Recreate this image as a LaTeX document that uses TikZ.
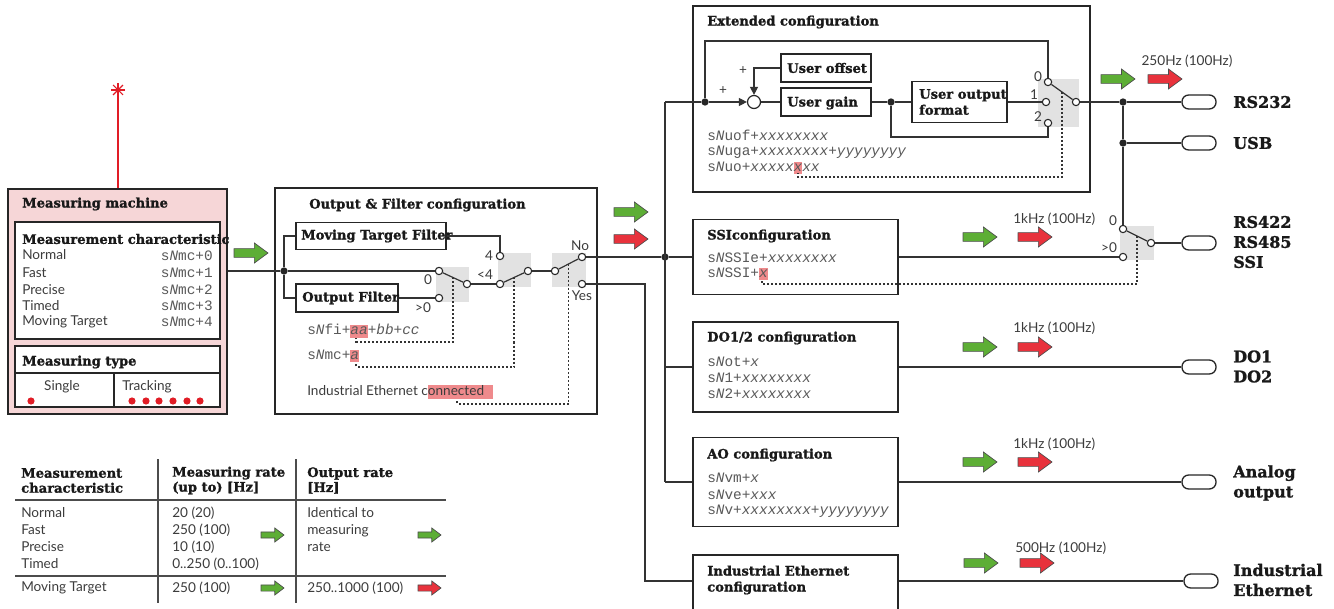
\documentclass[tikz,border=0pt]{standalone}
\usepackage{fontspec}
\setmainfont{Lato}
\setmonofont{Liberation Mono}
\newfontfamily\titlefont{DejaVu Serif}[BoldFont={DejaVu Serif Bold}, BoldFeatures={FakeBold=1.3}]
\usetikzlibrary{arrows.meta,calc}
\definecolor{pinkbg}{HTML}{F6D6D7}
\definecolor{swgray}{HTML}{E2E2E2}
\definecolor{agreen}{HTML}{5DAE35}
\definecolor{ared}{HTML}{E8323C}
\definecolor{hlred}{HTML}{EF8A8C}
\definecolor{txt}{HTML}{3C3C3C}
\definecolor{dotred}{HTML}{E11D26}
\definecolor{ln}{HTML}{333333}
\newcommand\sN{s\textit{N}}
\newcommand\hlx[1]{{\fboxsep=0pt\colorbox{hlred}{\rule[-2.5pt]{0pt}{9.5pt}#1}}}
\newcommand\hlwide[1]{{\fboxsep=0pt\colorbox{hlred}{\rule[-3pt]{0pt}{10.5pt}#1\hspace{7pt}}}}
\begin{document}
\begin{tikzpicture}[x=0.75pt,y=-0.75pt,
  wire/.style={draw=ln, line width=0.9pt},
  dotw/.style={draw=ln, line width=0.9pt, dash pattern=on 1.5pt off 1.5pt},
  tline/.style={draw=black!70, line width=0.8pt},
  box/.style={draw=black!85, line width=1pt, fill=white, inner sep=0pt},
  sz/.style 2 args={minimum width=#1*0.75pt, minimum height=#2*0.75pt},
  ttl/.style={font=\titlefont\bfseries\fontsize{9.8}{12}\selectfont, anchor=west, inner sep=0pt, text=black!90, align=left},
  ttlb/.style={font=\titlefont\bfseries\fontsize{9.8}{11.25}\selectfont, anchor=west, inner sep=0pt, text=black!90, align=left},
  rlab/.style={font=\titlefont\bfseries\fontsize{12}{15}\selectfont, anchor=west, inner sep=0pt, text=black!90, align=left},
  lbl/.style={font=\fontsize{10.2}{12.75}\selectfont, text=txt, inner sep=0pt},
  code/.style={font=\ttfamily\fontsize{10.8}{12}\selectfont, text=black!65, inner sep=0pt, anchor=west},
  term/.style={circle, draw=black!85, fill=white, line width=0.8pt, minimum size=5.5pt, inner sep=0pt},
  jdot/.style={circle, fill=black!85, minimum size=5.5pt, inner sep=0pt},
  plug/.style={draw=black!85, line width=1pt, fill=white, rounded corners=5pt, minimum width=25.5pt, minimum height=10.5pt, inner sep=0pt},
  tip/.style={-{Triangle[length=6pt,width=6pt]}},
  fatarrow/.pic={\path[draw=black!70, line width=0.5pt, pic actions] (0,-0.22)--(0.6,-0.22)--(0.6,-0.5)--(1,0)--(0.6,0.5)--(0.6,0.22)--(0,0.22)--cycle;},
  big/.style={xscale=34, yscale=20},
  small/.style={xscale=23, yscale=14}
]
\useasboundingbox (0,0) rectangle (1334,609);
\clip (0,0) rectangle (1334,609);

% ---------- Measuring machine ----------
\coordinate (ast) at (118,90);
\node[box, fill=pinkbg, sz={219}{225}] (mm) at (117.5,301.5) {};
\draw[dotred, line width=0.9pt] (ast) -- (ast |- mm.north);
\foreach \a in {0,45,90,135} \draw[dotred, line width=0.8pt] (ast) +(\a:7) -- +(\a+180:7);
\node[ttl] (mmt) at (22,204) {Measuring machine};
\node[box, sz={205}{117}] (mc) at (117.5,280.5) {};
\node[ttl] (mct) at (22,239) {Measurement characteristic};
\node[lbl, anchor=west] (r1) at (22,255) {Normal};
\node[lbl, anchor=west] (r2) at (22,273) {Fast};
\node[lbl, anchor=west] (r3) at (22,290) {Precise};
\node[lbl, anchor=west] (r4) at (22,306) {Timed};
\node[lbl, anchor=west] (r5) at (22,322) {Moving Target};
\node[code, anchor=east] (k1) at (213,256) {\sN mc+0};
\node[code, anchor=east] (k2) at (213,273) {\sN mc+1};
\node[code, anchor=east] (k3) at (213,290) {\sN mc+2};
\node[code, anchor=east] (k4) at (213,306) {\sN mc+3};
\node[code, anchor=east] (k5) at (213,322) {\sN mc+4};
\node[box, sz={205}{61}] (mt) at (117.5,376.5) {};
\node[ttl] (mtt) at (22,362) {Measuring type};
\draw[draw=black!85, line width=1pt] (15,373) -- (220,373) (114,373) -- (114,407);
\node[lbl] (sgl) at (62,387) {Single};
\node[lbl, anchor=west] (trk) at (122,387) {Tracking};
\foreach \x in {31,132,146,159,173,187,200} \fill[dotred] (\x,401) circle[radius=2.7pt];
\pic[fill=agreen, big] at (234,253) {fatarrow};

% ---------- Output & Filter configuration ----------
\node[box, sz={322}{226}] (of) at (436,301) {};
\node[ttl] (oft) at (309,205) {Output \& Filter configuration};
\node[box, sz={150}{27}] (mtf) at (371,236) {};
\node[ttl] (mtft) at (301,236) {Moving Target Filter};
\node[box, sz={102}{28}] (ofl) at (347,298) {};
\node[ttl] (oflt) at (302,298) {Output Filter};
\fill[swgray] (436,267) rectangle (469,302);
\fill[swgray] (498,253) rectangle (531,287);
\fill[swgray] (552,253) rectangle (586,287);
\node[jdot] (j1) at (284,271) {};
\node[term] (a0) at (439,271) {};
\node[term] (a1) at (439,298) {};
\node[term] (s1o) at (467,284) {};
\node[term] (b4) at (500,256) {};
\node[term] (b3) at (500,284) {};
\node[term] (s2o) at (528,271) {};
\node[term] (c0) at (555,271) {};
\node[term] (cno) at (582,257) {};
\node[term] (cyes) at (582,284) {};
\node[lbl] at (428,280) {0};
\node[lbl] at (423,308) {>0};
\node[lbl] at (489,256) {4};
\node[lbl] at (485,275) {<4};
\node[lbl] at (580,246) {No};
\node[lbl] at (582,296) {Yes};
\draw[wire] (mm.east |- j1) -- (j1);
\draw[wire] (j1) |- (mtf.west);
\draw[wire] (j1) |- (ofl.west);
\draw[wire] (j1) -- (a0);
\draw[wire] (ofl.east) -- (a1);
\draw[wire] (mtf.east) -| (b4);
\draw[wire] (a0) -- (s1o);
\draw[wire] (s1o) -- (b3);
\draw[wire] (b3) -- (s2o);
\draw[wire] (s2o) -- (c0);
\draw[wire] (c0) -- (cno);
\node[code] (cf1) at (307,331) {\sN fi+\hlx{\textit{aa}}+\textit{bb}+\textit{cc}};
\node[code] (cf2) at (307,356) {\sN mc+\hlx{\textit{a}}};
\node[lbl, anchor=west] (iec) at (307,392) {Industrial Ethernet c\hlwide{onnected}};
\coordinate (d1a) at (356,342); \coordinate (d1) at (356,338);
\coordinate (d2a) at (356,367); \coordinate (d2) at (356,363);
\coordinate (d3a) at (457,404); \coordinate (d3) at (457,400);
\draw[dotw] ($(a0)!.5!(s1o)$) |- (d1a) -- (d1);
\draw[dotw] ($(b3)!.5!(s2o)$) |- (d2a) -- (d2);
\draw[dotw] ($(c0)!.5!(cno)$) |- (d3a) -- (d3);
\pic[fill=agreen, big] at (614,212) {fatarrow};
\pic[fill=ared, big] at (614,239) {fatarrow};

% ---------- bus ----------
\coordinate (bt) at (665,102);
\node[jdot] (jb) at (665,257) {};
\coordinate (bd) at (665,367);
\coordinate (ba) at (665,482);
\coordinate (yb) at (645,284);
\draw[wire] (bt) -- (ba);
\draw[wire] (cno) -- (jb);

% ---------- Extended configuration ----------
\node[box, sz={397}{186}] (ext) at (891.5,99) {};
\node[ttl] (extt) at (707,22) {Extended configuration};
\fill[swgray] (1038,79) rectangle (1079,127);
\node[jdot] (jext) at (705,102) {};
\node[circle, draw=black!85, fill=white, line width=0.9pt, minimum size=9.75pt, inner sep=0pt] (sum) at (754,102) {};
\node[box, sz={90}{28}] (uoff) at (826,68) {};
\node[ttl] at (787,68) {User offset};
\node[box, sz={90}{28}] (ugain) at (826,102) {};
\node[ttl] at (787,103) {User gain};
\node[box, sz={95}{41}] (uof) at (959.5,102) {};
\node[ttl] at (919,102) {User output\\format};
\node[jdot] (jg) at (891,102) {};
\node[term] (e0) at (1048,82) {};
\node[term] (e1) at (1046,102) {};
\node[term] (e2) at (1048,123) {};
\node[term] (eo) at (1076,102) {};
\node[lbl] at (1038,77) {0};
\node[lbl] at (1034,95) {1};
\node[lbl] at (1038,117) {2};
\node[lbl] at (723,91) {+};
\node[lbl] at (743,71) {+};
\coordinate (et) at (1048,41);
\coordinate (eb) at (1048,137);
\draw[wire] (bt) -- (jext);
\draw[wire, tip] (jext) -- (sum);
\draw[wire, tip] (uoff.west) -| (sum.north);
\draw[wire] (sum) -- (ugain.west);
\draw[wire] (ugain.east) -- (jg);
\draw[wire] (jg) -- (uof.west);
\draw[wire] (jg) |- (eb) -- (e2);
\draw[wire] (jext) |- (et) -- (e0);
\draw[wire] (uof.east) -- (e1);
\draw[wire] (e0) -- (eo);
\node[code] at (707,135) {\sN uof+\textit{xxxxxxxx}};
\node[code] at (707,152) {\sN uga+\textit{xxxxxxxx}+\textit{yyyyyyyy}};
\node[code] at (707,168) {\sN uo+\textit{xxxxx}\hlx{\textit{x}}\textit{xx}};
\coordinate (d4a) at (798,177); \coordinate (d4) at (798,173);
\draw[dotw] ($(e0)!.5!(eo)$) |- (d4a) -- (d4);

% ---------- outputs right ----------
\node[jdot] (jr) at (1123,102) {};
\node[jdot] (ju) at (1123,143) {};
\fill[swgray] (1120,226) rectangle (1154,260);
\node[term] (ss0) at (1123,229) {};
\node[term] (ss1) at (1123,257) {};
\node[term] (sso) at (1151,243) {};
\node[lbl] at (1113,221) {0};
\node[lbl] at (1109,248) {>0};
\node[plug] (p232) at (1199,102) {};
\node[plug] (pusb) at (1199,143) {};
\node[plug] (p422) at (1199,243) {};
\node[plug] (pdo) at (1199,367) {};
\node[plug] (pao) at (1199,482) {};
\node[plug] (pie) at (1201,581) {};
\draw[wire] (eo) -- (jr) -- (p232);
\draw[wire] (jr) -- (ju) -- (pusb);
\draw[wire] (ju) -- (ss0);
\draw[wire] (ss0) -- (sso);
\draw[wire] (sso) -- (p422);
\node[rlab] at (1233,102) {RS232};
\node[rlab] at (1233,143) {USB};
\node[rlab] at (1233,242) {RS422\\RS485\\SSI};
\node[rlab] at (1233,366.5) {DO1\\DO2};
\node[rlab] at (1233,483) {Analog\\output};
\node[rlab] at (1233,580) {Industrial\\Ethernet};
\pic[fill=agreen, big] at (1101,79) {fatarrow};
\pic[fill=ared, big] at (1148,79) {fatarrow};
\node[lbl] at (1187,61) {250Hz (100Hz)};

% ---------- SSI ----------
\node[box, sz={205}{75}] (ssi) at (795.5,257) {};
\node[ttl] at (707,236) {SSIconfiguration};
\node[code] at (707,258) {\sN SSIe+\textit{xxxxxxxx}};
\node[code] at (707,274) {\sN SSI+\hlx{\textit{x}}};
\draw[wire] (jb) -- (ssi.west);
\draw[wire] (ssi.east) -- (ss1);
\coordinate (d5a) at (762,284); \coordinate (d5) at (762,281);
\draw[dotw] ($(ss0)!.5!(sso)$) |- (d5a) -- (d5);
\pic[fill=agreen, big] at (963,237) {fatarrow};
\pic[fill=ared, big] at (1018,237) {fatarrow};
\node[lbl, anchor=west] at (1013,219) {1kHz (100Hz)};

% ---------- DO ----------
\node[box, sz={205}{90}] (do) at (795.5,367) {};
\node[ttl] at (707,338) {DO1/2 configuration};
\node[code] at (707,362) {\sN ot+\textit{x}};
\node[code] at (707,378) {\sN 1+\textit{xxxxxxxx}};
\node[code] at (707,394) {\sN 2+\textit{xxxxxxxx}};
\draw[wire] (bd) -- (do.west);
\draw[wire] (do.east) -- (pdo);
\pic[fill=agreen, big] at (963,347) {fatarrow};
\pic[fill=ared, big] at (1018,347) {fatarrow};
\node[lbl, anchor=west] at (1013,328) {1kHz (100Hz)};

% ---------- AO ----------
\node[box, sz={205}{89}] (ao) at (795.5,482) {};
\node[ttl] at (707,455) {AO configuration};
\node[code] at (707,478) {\sN vm+\textit{x}};
\node[code] at (707,495) {\sN ve+\textit{xxx}};
\node[code] at (707,511) {\sN v+\textit{xxxxxxxx}+\textit{yyyyyyyy}};
\draw[wire] (ba) -- (ao.west);
\draw[wire] (ao.east) -- (pao);
\pic[fill=agreen, big] at (963,462) {fatarrow};
\pic[fill=ared, big] at (1018,462) {fatarrow};
\node[lbl, anchor=west] at (1013,444) {1kHz (100Hz)};

% ---------- Industrial Ethernet ----------
\node[box, sz={205}{70}] (ie) at (795.5,590) {};
\node[ttl] at (707,580) {Industrial Ethernet\\configuration};
\draw[wire] (cyes) -- (yb) |- ([yshift=6.75pt]ie.west);
\draw[wire] ([yshift=6.75pt]ie.east) -- (pie);
\pic[fill=agreen, big] at (964,563) {fatarrow};
\pic[fill=ared, big] at (1020,563) {fatarrow};
\node[lbl, anchor=west] at (1015,548) {500Hz (100Hz)};

% ---------- Table ----------
\draw[tline] (158,459) -- (158,603) (296,459) -- (296,603);
\draw[tline] (15,500) -- (446,500) (15,576) -- (446,576);
\node[ttlb] at (21,480.5) {Measurement\\characteristic};
\node[ttlb] at (172,480.5) {Measuring rate\\(up to) [Hz]};
\node[ttlb] at (307,480.5) {Output rate\\{[}Hz{]}};
\node[lbl, anchor=west, align=left] at (21,538.5) {Normal\\Fast\\Precise\\Timed};
\node[lbl, anchor=west, align=left] at (172,538.5) {20 (20)\\250 (100)\\10 (10)\\0..250 (0..100)};
\node[lbl, anchor=west, align=left] at (307,530) {Identical to\\measuring\\rate};
\node[lbl, anchor=west] at (21,588) {Moving Target};
\node[lbl, anchor=west] at (172,588) {250 (100)};
\node[lbl, anchor=west] at (307,588) {250..1000 (100)};
\pic[fill=agreen, small] at (261,535) {fatarrow};
\pic[fill=agreen, small] at (418,535) {fatarrow};
\pic[fill=agreen, small] at (261,588) {fatarrow};
\pic[fill=ared, small] at (418,588) {fatarrow};
\end{tikzpicture}
\end{document}
